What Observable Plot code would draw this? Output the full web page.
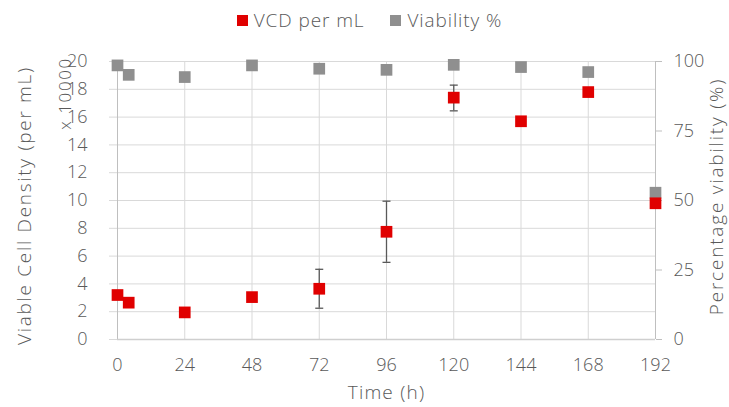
<!DOCTYPE html>
<html>
<head>
<meta charset="utf-8">
<script src="https://cdn.jsdelivr.net/npm/d3@7"></script>
<script src="https://cdn.jsdelivr.net/npm/@observablehq/plot@0.6"></script>
<style>
  html, body { margin: 0; padding: 0; background: #fff; }
  body { width: 729px; height: 407px; overflow: hidden; font-family: "Open Sans", sans-serif; color: #595959; }
  #legend { height: 37px; padding-top: 3px; box-sizing: border-box; display: flex; justify-content: center; align-items: center; font-size: 19px; font-weight: 300; letter-spacing: 0.9px; padding-left: 10px; }
  .item { display: flex; align-items: center; margin: 0 13px; }
  .sw { width: 11px; height: 11px; margin-right: 6px; display: inline-block; }
  svg { display: block; }
</style>
</head>
<body>
<div id="legend"></div>
<div id="chart"></div>
<script>
// Data
const time = [0, 4, 24, 48, 72, 96, 120, 144, 168, 192];           // hours
const vcd = [3.2, 2.65, 1.95, 3.05, 3.65, 7.75, 17.4, 15.7, 17.8, 9.8]; // x 10000 per mL
const vcdLow = [null, null, null, null, 2.25, 5.55, 16.45, null, null, null];
const vcdHigh = [null, null, null, null, 5.05, 9.95, 18.3, null, null, null];
const viability = [98.6, 95.2, 94.4, 98.6, 97.4, 97.0, 98.8, 98.0, 96.2, 52.8]; // %

const seriesNames = ["VCD per mL", "Viability %"];
const seriesColors = ["#e00000", "#8f8f8f"];
const xTicks = [0, 24, 48, 72, 96, 120, 144, 168, 192];
const yTicks = [0, 2, 4, 6, 8, 10, 12, 14, 16, 18, 20];
const y2Ticks = [0, 25, 50, 75, 100];
const y2Factor = 5; // 100 % on the right axis <-> 20 on the left axis

const rows = time.map((t, i) => ({t, vcd: vcd[i], lo: vcdLow[i], hi: vcdHigh[i], via: viability[i]}));
const errRows = rows.filter(d => d.lo != null);

// legend
const legend = document.getElementById("legend");
seriesNames.forEach((n, i) => {
  const it = document.createElement("span");
  it.className = "item";
  it.innerHTML = `<span class="sw" style="background:${seriesColors[i]}"></span>${n}`;
  legend.appendChild(it);
});

const cap = {draw(ctx) { ctx.moveTo(-4, 0); ctx.lineTo(4, 0); }};
const grid = "#d9d9d9";
const axisCol = "#bfbfbf";
const font = "'Open Sans', sans-serif";
const txt = "#595959";

const titleSpacing = {
  "Viable Cell Density (per mL)": "1.7px",
  "Percentage viability (%)": "1.8px",
  "Time (h)": "1.2px",
  "x 10000": "1.6px"
};

const chart = Plot.plot({
  width: 729,
  height: 370,
  marginTop: 24,
  marginBottom: 68,
  marginLeft: 117,
  marginRight: 74,
  style: {fontFamily: font, fontSize: "18px", color: txt, background: "#fff"},
  x: {domain: [0, 192], axis: null},
  y: {domain: [0, 20], axis: null},
  marks: [
    Plot.ruleY(yTicks, {stroke: grid, strokeWidth: 1}),
    Plot.ruleX(xTicks, {stroke: grid, strokeWidth: 1}),
    Plot.axisY({anchor: "left", ticks: yTicks, tickSize: 8, tickPadding: 22, stroke: grid, label: null, fontWeight: 300, fill: txt}),
    Plot.axisY({anchor: "right", ticks: y2Ticks.map(v => v / y2Factor), tickFormat: d => d * y2Factor, tickSize: 6, tickPadding: 12, stroke: axisCol, label: null, fontWeight: 300, fill: txt}),
    Plot.axisX({anchor: "bottom", ticks: xTicks, tickSize: 0, tickPadding: 19, label: null, fontWeight: 300, fill: txt}),
    Plot.ruleX([0, 192], {stroke: axisCol}),
    Plot.ruleY([0], {stroke: "#cfcfcf", strokeWidth: 1.5}),
    Plot.ruleX(errRows, {x: "t", y1: "lo", y2: "hi", stroke: txt, strokeWidth: 1.3}),
    Plot.dot(errRows, {x: "t", y: "lo", symbol: cap, stroke: txt, strokeWidth: 1.3}),
    Plot.dot(errRows, {x: "t", y: "hi", symbol: cap, stroke: txt, strokeWidth: 1.3}),
    Plot.dot(rows, {x: "t", y: d => d.via / y2Factor, symbol: "square", r: 6.6, fill: seriesColors[1]}),
    Plot.dot(rows, {x: "t", y: "vcd", symbol: "square", r: 6.6, fill: seriesColors[0]}),
    Plot.text(["Viable Cell Density (per mL)"], {frameAnchor: "left", textAnchor: "middle", rotate: -90, dx: -93, dy: 5, fill: txt, fontSize: 19, fontWeight: 300}),
    Plot.text(["x 10000"], {frameAnchor: "top-left", textAnchor: "middle", rotate: -90, dx: -59, dy: 32, fill: txt, fontSize: 17, fontWeight: 300}),
    Plot.text(["Percentage viability (%)"], {frameAnchor: "right", textAnchor: "middle", rotate: -90, dx: 61, dy: -4, fill: txt, fontSize: 19, fontWeight: 300}),
    Plot.text(["Time (h)"], {frameAnchor: "bottom", textAnchor: "middle", dy: 59, fill: txt, fontSize: 19, fontWeight: 300})
  ]
});
d3.select(chart).selectAll("text").each(function() {
  const s = titleSpacing[this.textContent];
  if (s) d3.select(this).style("letter-spacing", s);
});
document.getElementById("chart").appendChild(chart);
</script>
</body>
</html>
